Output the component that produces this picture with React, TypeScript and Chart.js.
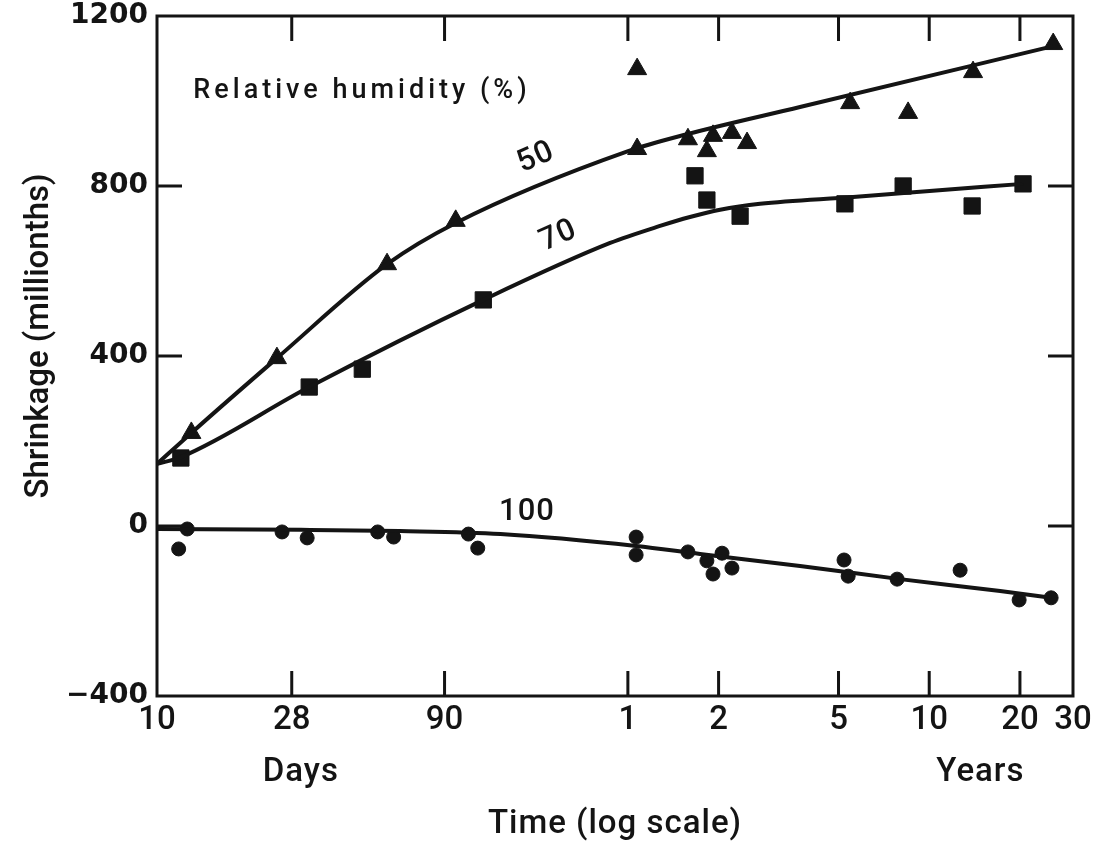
import React, { useEffect, useRef } from 'react';
import { Chart, registerables } from 'chart.js';

Chart.register(...registerables);

const INK = '#141414';
const TEXT = "Roboto, 'DejaVu Sans', sans-serif";
const NUM = "'DejaVu Sans', sans-serif";

// X axis: time in days (log scale); tick labels switch from days to years
const X_TICK_DAYS = [10, 28, 90, 365.25, 730.5, 1826.25, 3652.5, 7305, 10957.5];
const X_TICK_LABELS = ['10', '28', '90', '1', '2', '5', '10', '20', '30'];
const Y_TICKS = [-400, 0, 400, 800, 1200];
const Y_TICK_LABELS = ['\u2212400', '0', '400', '800', '1200'];

// 50 % relative humidity: measured points (triangles)
const rh50Days = [13, 25, 58, 98, 392, 392, 578, 668, 700, 809, 908, 1996, 3108, 5106, 9420];
const rh50Shrink = [219, 395, 616, 718, 1075, 887, 910, 882, 918, 925, 901, 995, 972, 1068, 1134];
// 50 % fitted curve
const fit50Days = [10, 13, 25, 58, 98, 366, 574, 1361, 9420];
const fit50Shrink = [146, 219, 395, 616, 713, 882, 922, 986, 1129];

// 70 % relative humidity: measured points (squares)
const rh70Days = [12, 32, 48, 121, 610, 668, 861, 1918, 2993, 5070, 7480];
const rh70Shrink = [160, 327, 369, 532, 824, 767, 729, 758, 800, 753, 805];
// 70 % fitted curve
const fit70Days = [10, 12, 32, 121, 319, 467, 587, 739, 1003, 2042, 3085, 7480];
const fit70Shrink = [146, 162, 327, 532, 666, 706, 727, 744, 758, 774, 784, 805];

// 100 % relative humidity: measured points (circles)
const rh100Days = [12.6, 11.8, 26, 31.5, 54, 61, 108, 116, 389, 389, 578, 668, 700, 750, 809, 1905, 1966, 2858, 4625, 7260, 9270];
const rh100Shrink = [-7, -54, -14, -28, -14, -26, -19, -52, -26, -68, -61, -82, -113, -64, -99, -80, -118, -125, -104, -174, -169];
// 100 % fitted curve
const fit100Days = [10, 30, 64, 138, 389, 634, 1361, 2924, 6280, 9270];
const fit100Shrink = [-7, -9, -12, -19, -47, -66, -94, -125, -153, -169];

// Curve labels anchored in data space
const CURVE_LABELS = ['50', '70', '100'];
const CURVE_LABEL_DAYS = [181, 215, 169];
const CURVE_LABEL_SHRINK = [866, 682, 33];
const CURVE_LABEL_ANGLE = [-24, -24, 0];

const LEGEND_TITLE = 'Relative humidity (%)';
const LEGEND_DAYS = 13.2;
const LEGEND_SHRINK = 1007;
const X_TITLE = 'Time (log scale)';
const Y_TITLE = 'Shrinkage (millionths)';
const UNIT_LABELS = ['Days', 'Years'];
const UNIT_LABEL_DAYS = [30, 5400];

const zip = (xs: number[], ys: number[]) => xs.map((x, i) => ({ x, y: ys[i] }));

const TICK_LEN = 25;

const framePlugin = {
  id: 'frameAndText',
  afterDraw(chart: any) {
    const { ctx, chartArea: a, scales } = chart;
    const xs = scales.x;
    const ys = scales.y;
    ctx.save();
    ctx.strokeStyle = INK;
    ctx.fillStyle = INK;
    ctx.lineWidth = 3;
    ctx.strokeRect(a.left, a.top, a.right - a.left, a.bottom - a.top);
    ctx.beginPath();
    X_TICK_DAYS.slice(1, -1).forEach((v) => {
      const px = xs.getPixelForValue(v);
      ctx.moveTo(px, a.bottom);
      ctx.lineTo(px, a.bottom - TICK_LEN);
      ctx.moveTo(px, a.top);
      ctx.lineTo(px, a.top + TICK_LEN);
    });
    Y_TICKS.slice(1, -1).forEach((v) => {
      const py = ys.getPixelForValue(v);
      ctx.moveTo(a.left, py);
      ctx.lineTo(a.left + TICK_LEN, py);
      ctx.moveTo(a.right, py);
      ctx.lineTo(a.right - TICK_LEN, py);
    });
    ctx.stroke();

    // legend title inside plot
    ctx.save();
    ctx.font = `500 27px ${TEXT}`;
    (ctx as any).letterSpacing = '4px';
    ctx.textAlign = 'left';
    ctx.textBaseline = 'alphabetic';
    ctx.fillText(LEGEND_TITLE, xs.getPixelForValue(LEGEND_DAYS), ys.getPixelForValue(LEGEND_SHRINK));
    ctx.restore();

    // curve labels
    CURVE_LABELS.forEach((t, i) => {
      ctx.save();
      ctx.translate(xs.getPixelForValue(CURVE_LABEL_DAYS[i]), ys.getPixelForValue(CURVE_LABEL_SHRINK[i]));
      ctx.rotate((CURVE_LABEL_ANGLE[i] * Math.PI) / 180);
      ctx.font = `500 31px ${TEXT}`;
      (ctx as any).letterSpacing = '1px';
      ctx.textAlign = 'center';
      ctx.textBaseline = 'middle';
      ctx.fillText(t, 0, 0);
      ctx.restore();
    });

    // unit labels under the axis, and axis titles
    ctx.save();
    ctx.font = `500 33px ${TEXT}`;
    (ctx as any).letterSpacing = '1px';
    ctx.textAlign = 'center';
    ctx.textBaseline = 'middle';
    UNIT_LABELS.forEach((t, i) => {
      ctx.fillText(t, xs.getPixelForValue(UNIT_LABEL_DAYS[i]), a.bottom + 77);
    });
    ctx.fillText(X_TITLE, (a.left + a.right) / 2, a.bottom + 129);
    (ctx as any).letterSpacing = '0px';
    ctx.translate(40, (a.top + a.bottom) / 2 - 20);
    ctx.rotate(-Math.PI / 2);
    ctx.fillText(Y_TITLE, 0, 0);
    ctx.restore();

    ctx.restore();
  },
};

export default function App() {
  const ref = useRef<HTMLCanvasElement | null>(null);
  useEffect(() => {
    if (!ref.current) return;
    const lineDs = (data: any[]) => ({
      data,
      showLine: true,
      borderColor: INK,
      borderWidth: 4,
      pointRadius: 0,
      fill: false,
      cubicInterpolationMode: 'monotone' as const,
    });
    const ptDs = (data: any[], style: string, r: number) => ({
      data,
      showLine: false,
      pointStyle: style,
      pointRadius: r,
      pointBackgroundColor: INK,
      pointBorderColor: INK,
      pointBorderWidth: 1,
    });
    const chart = new Chart(ref.current, {
      type: 'scatter',
      data: {
        datasets: [
          lineDs(zip(fit50Days, fit50Shrink)),
          lineDs(zip(fit70Days, fit70Shrink)),
          lineDs(zip(fit100Days, fit100Shrink)),
          ptDs(zip(rh50Days, rh50Shrink), 'triangle', 11),
          ptDs(zip(rh70Days, rh70Shrink), 'rect', 11.5),
          ptDs(zip(rh100Days, rh100Shrink), 'circle', 7),
        ] as any,
      },
      options: {
        animation: false,
        responsive: true,
        maintainAspectRatio: false,
        layout: { padding: { top: 16, right: 26, left: 0, bottom: 0 } },
        plugins: { legend: { display: false }, tooltip: { enabled: false } },
        events: [],
        scales: {
          x: {
            type: 'logarithmic',
            min: 10,
            max: 10957.5,
            afterBuildTicks: (scale: any) => {
              scale.ticks = X_TICK_DAYS.map((value) => ({ value }));
            },
            afterFit: (scale: any) => {
              scale.height = 146;
              scale.paddingLeft = 0;
              scale.paddingRight = 0;
            },
            grid: { display: false, drawTicks: false },
            border: { display: false },
            ticks: {
              autoSkip: false,
              maxRotation: 0,
              padding: 5,
              color: INK,
              font: { family: TEXT, size: 33, weight: '500' },
              callback: (_v: any, i: number) => X_TICK_LABELS[i],
            },
          },
          y: {
            type: 'linear',
            min: -400,
            max: 1200,
            afterBuildTicks: (scale: any) => {
              scale.ticks = Y_TICKS.map((value) => ({ value }));
            },
            afterFit: (scale: any) => {
              scale.width = 157;
              scale.paddingTop = 0;
              scale.paddingBottom = 0;
            },
            grid: { display: false, drawTicks: false },
            border: { display: false },
            ticks: {
              padding: 9,
              color: INK,
              font: { family: NUM, size: 28, weight: 'bold', lineHeight: 1 },
              callback: (_v: any, i: number) => Y_TICK_LABELS[i],
            },
          },
        },
      },
      plugins: [framePlugin],
    });
    return () => chart.destroy();
  }, []);
  return (
    <div style={{ position: 'fixed', left: 0, top: 0, width: 1099, height: 842, background: '#fff' }}>
      <canvas ref={ref} />
    </div>
  );
}
